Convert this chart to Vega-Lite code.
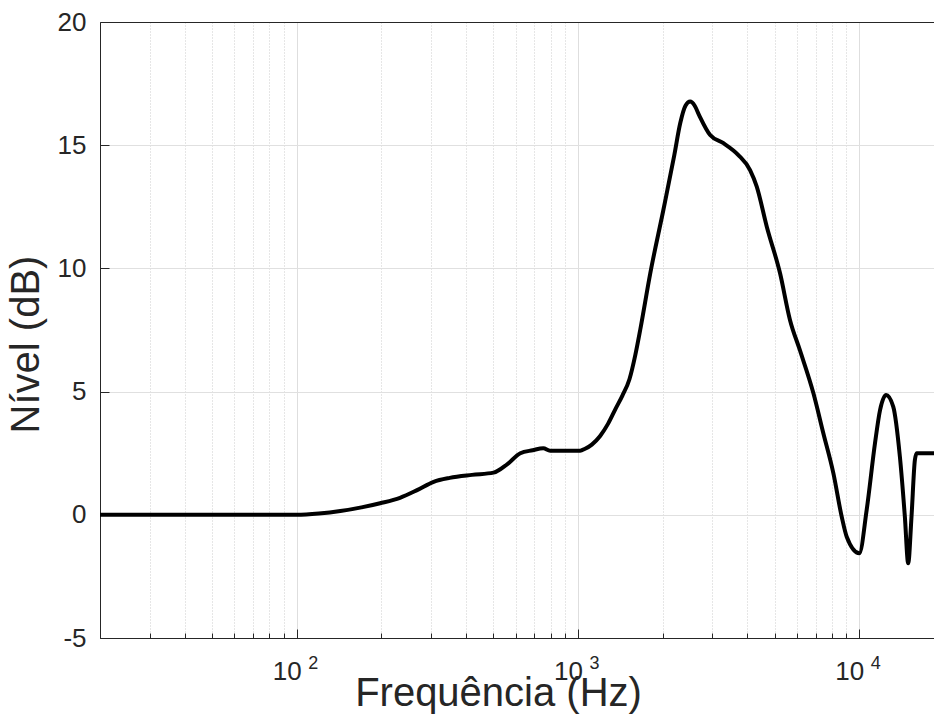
{
  "$schema": "https://vega.github.io/schema/vega-lite/v6.json",
  "width": 834,
  "height": 616,
  "autosize": {"type": "none"},
  "padding": {"left": 100, "top": 22, "right": 0, "bottom": 79},
  "background": "white",
  "config": {"view": {"stroke": null}, "font": "Liberation Sans"},
  "data": {
    "values": [
      {"freq": 20, "level": 0},
      {"freq": 50, "level": 0},
      {"freq": 100, "level": 0},
      {"freq": 120, "level": 0.05},
      {"freq": 143, "level": 0.15},
      {"freq": 170, "level": 0.3},
      {"freq": 198, "level": 0.47},
      {"freq": 233, "level": 0.69},
      {"freq": 268, "level": 1.0},
      {"freq": 307, "level": 1.34},
      {"freq": 350, "level": 1.5},
      {"freq": 420, "level": 1.62},
      {"freq": 501, "level": 1.71},
      {"freq": 560, "level": 2.05},
      {"freq": 624, "level": 2.5},
      {"freq": 690, "level": 2.62},
      {"freq": 753, "level": 2.7},
      {"freq": 796, "level": 2.6},
      {"freq": 900, "level": 2.6},
      {"freq": 1018, "level": 2.6},
      {"freq": 1060, "level": 2.68},
      {"freq": 1120, "level": 2.85},
      {"freq": 1199, "level": 3.2},
      {"freq": 1280, "level": 3.7},
      {"freq": 1360, "level": 4.3},
      {"freq": 1440, "level": 4.85},
      {"freq": 1524, "level": 5.5},
      {"freq": 1600, "level": 6.5},
      {"freq": 1664, "level": 7.5},
      {"freq": 1807, "level": 9.8},
      {"freq": 2014, "level": 12.4},
      {"freq": 2200, "level": 14.6},
      {"freq": 2310, "level": 15.9},
      {"freq": 2410, "level": 16.6},
      {"freq": 2505, "level": 16.77},
      {"freq": 2600, "level": 16.6},
      {"freq": 2700, "level": 16.2},
      {"freq": 2950, "level": 15.41},
      {"freq": 3290, "level": 15.08},
      {"freq": 3717, "level": 14.6},
      {"freq": 4090, "level": 13.99},
      {"freq": 4320, "level": 13.32},
      {"freq": 4690, "level": 11.69},
      {"freq": 5228, "level": 9.8},
      {"freq": 5670, "level": 7.91},
      {"freq": 6150, "level": 6.68},
      {"freq": 6870, "level": 4.93},
      {"freq": 7450, "level": 3.31},
      {"freq": 8090, "level": 1.68},
      {"freq": 8660, "level": -0.08},
      {"freq": 9020, "level": -0.89},
      {"freq": 10000, "level": -1.56},
      {"freq": 10620, "level": 0.19},
      {"freq": 11370, "level": 2.9},
      {"freq": 11850, "level": 4.25},
      {"freq": 12450, "level": 4.86},
      {"freq": 13200, "level": 4.39},
      {"freq": 13940, "level": 2.36},
      {"freq": 14520, "level": -0.08},
      {"freq": 14920, "level": -1.97},
      {"freq": 15330, "level": -0.08},
      {"freq": 15760, "level": 2.22},
      {"freq": 15990, "level": 2.5},
      {"freq": 18430, "level": 2.5}
    ]
  },
  "layer": [
    {
      "mark": {"type": "line", "color": "black", "strokeWidth": 4, "interpolate": "monotone", "clip": true},
      "encoding": {
        "x": {
          "field": "freq",
          "type": "quantitative",
          "scale": {"type": "log", "domain": [20, 18430], "nice": false},
          "axis": {
            "values": [20, 30, 40, 50, 60, 70, 80, 90, 100, 200, 300, 400, 500, 600, 700, 800, 900, 1000, 2000, 3000, 4000, 5000, 6000, 7000, 8000, 9000, 10000],
            "labelExpr": "datum.value == 100 || datum.value == 1000 || datum.value == 10000 ? '10' : ''",
            "labelFontSize": 26,
            "labelColor": "#262626",
            "labelPadding": 29,
            "labelOffset": -10,
            "labelFlush": false,
            "labelOverlap": false,
            "labelBaseline": "top",
            "tickColor": "#262626",
            "tickSize": {"condition": {"test": "datum.value == 100 || datum.value == 1000 || datum.value == 10000", "value": -9}, "value": -5},
            "domainColor": "#262626",
            "grid": true,
            "gridColor": {"condition": {"test": "datum.value == 100 || datum.value == 1000 || datum.value == 10000", "value": "#dedede"}, "value": "#cccccc"},
            "gridDash": {"condition": {"test": "datum.value == 100 || datum.value == 1000 || datum.value == 10000", "value": []}, "value": [1, 2]},
            "title": "Frequência (Hz)",
            "titleFontSize": 40,
            "titleFontWeight": "normal",
            "titleColor": "#262626",
            "titleX": 398,
            "titleY": 67,
            "titleAlign": "center",
            "titleBaseline": "alphabetic"
          }
        },
        "y": {
          "field": "level",
          "type": "quantitative",
          "scale": {"domain": [-5, 20], "nice": false, "zero": false},
          "axis": {
            "values": [-5, 0, 5, 10, 15, 20],
            "labelExpr": "datum.value < 0 ? '-' + toString(abs(datum.value)) : toString(datum.value)",
            "labelFontSize": 26,
            "labelColor": "#262626",
            "labelPadding": 23,
            "labelFlush": false,
            "tickColor": "#262626",
            "tickSize": -9,
            "domainColor": "#262626",
            "grid": true,
            "gridColor": "#e0e0e0",
            "title": "Nível (dB)",
            "titleFontSize": 40,
            "titleFontWeight": "normal",
            "titleColor": "#262626",
            "titleX": -62,
            "titleY": 322,
            "titleAngle": 270,
            "titleAlign": "center",
            "titleBaseline": "alphabetic"
          }
        }
      }
    },
    {
      "mark": {"type": "line", "opacity": 0},
      "encoding": {
        "x": {
          "field": "freq",
          "type": "quantitative",
          "axis": {"orient": "top", "labels": false, "ticks": false, "grid": false, "title": null, "domainColor": "#262626"}
        },
        "y": {"field": "level", "type": "quantitative"}
      }
    },
    {
      "mark": {"type": "line", "opacity": 0},
      "encoding": {
        "x": {
          "field": "freq",
          "type": "quantitative",
          "axis": {
            "orient": "bottom",
            "values": [100, 1000, 10000],
            "labelExpr": "datum.value == 100 ? '2' : datum.value == 1000 ? '3' : '4'",
            "labelFontSize": 18,
            "labelColor": "#262626",
            "labelPadding": 16,
            "labelOffset": 16,
            "labelBaseline": "top",
            "labelFlush": false,
            "labelOverlap": false,
            "ticks": false,
            "domain": false,
            "grid": false,
            "title": null
          }
        },
        "y": {"field": "level", "type": "quantitative"}
      }
    }
  ],
  "resolve": {"axis": {"x": "independent"}}
}
